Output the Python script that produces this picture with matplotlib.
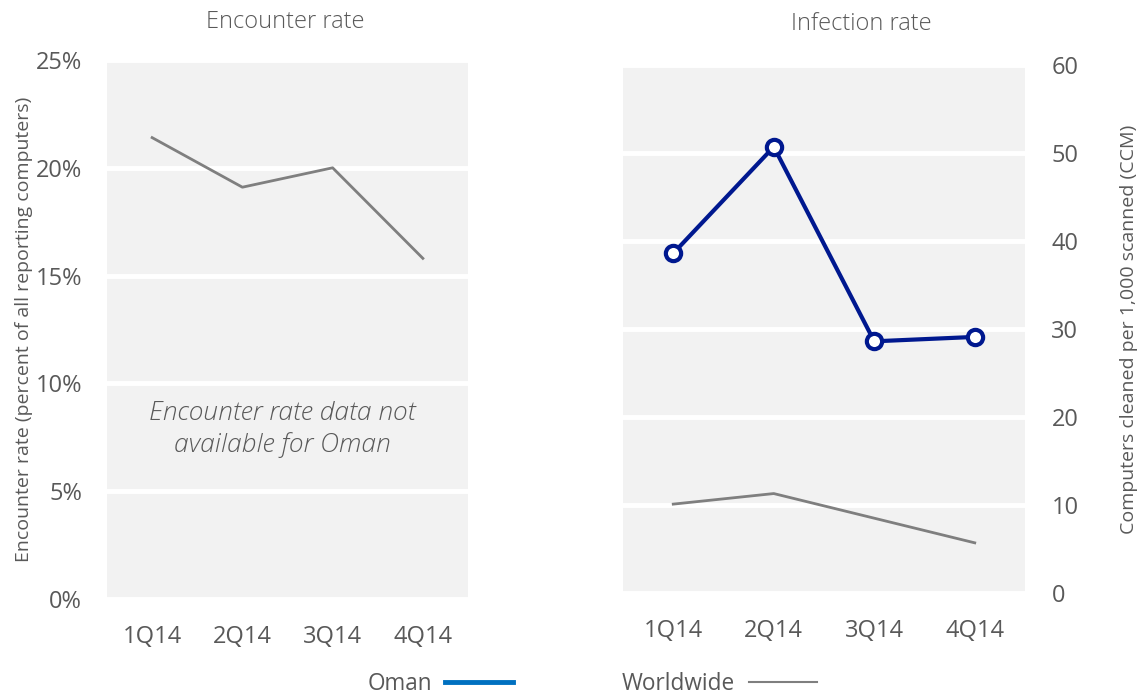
import matplotlib
matplotlib.use("Agg")
import matplotlib.pyplot as plt
from matplotlib.lines import Line2D

quarters = ["1Q14", "2Q14", "3Q14", "4Q14"]
encounter_worldwide = [21.4, 19.1, 20.0, 15.8]
infection_oman = [38.6, 50.7, 28.6, 29.1]
infection_worldwide = [10.1, 11.3, 8.5, 5.7]

plt.rcParams['font.family'] = ['Open Sans', 'DejaVu Sans']
txt = '#595959'
bg = '#F2F2F2'
navy = '#00188F'
gray = '#7F7F7F'

fig = plt.figure(figsize=(11.4, 6.98), dpi=100)
W, H = 1140, 698

def box(x0, x1, ytop, ybot):
    return [x0 / W, (H - ybot) / H, (x1 - x0) / W, (ybot - ytop) / H]

ax1 = fig.add_axes(box(107, 468, 60, 599))
ax2 = fig.add_axes(box(623, 1025, 65, 593))

x = range(len(quarters))
for ax in (ax1, ax2):
    ax.set_facecolor(bg)
    for s in ax.spines.values():
        s.set_visible(False)
    ax.set_xlim(-0.5, 3.5)
    ax.set_xticks(list(x))
    ax.set_xticklabels(quarters)
    ax.tick_params(length=0, labelsize=17, labelcolor=txt)
    ax.tick_params(axis='x', pad=19)
    ax.grid(axis='y', color='white', lw=3.5)
    ax.set_axisbelow(True)

# left panel
ax1.plot(x, encounter_worldwide, color=gray, lw=2)
ax1.set_ylim(0, 25)
ax1.set_yticks([0, 5, 10, 15, 20, 25])
ax1.set_yticklabels([f"{v}%" for v in [0, 5, 10, 15, 20, 25]])
ax1.tick_params(axis='y', pad=18)
ax1.set_ylabel("Encounter rate (percent of all reporting computers)", fontsize=14, color=txt, labelpad=2)
ax1.text(1.44, 7.85, "Encounter rate data not\navailable for Oman", ha='center', va='center',
         fontsize=19, style='italic', fontweight='light', color=txt, linespacing=1.3)

# right panel
ax2.plot(x, infection_worldwide, color=gray, lw=2)
ax2.plot(x, infection_oman, color=navy, lw=3, marker='o', ms=11, mfc='white', mec=navy, mew=3)
ax2.set_ylim(0, 60)
ax2.set_yticks(range(0, 61, 10))
ax2.yaxis.tick_right()
ax2.yaxis.set_label_position('right')
ax2.tick_params(axis='y', pad=19)
ax2.set_ylabel("Computers cleaned per 1,000 scanned (CCM)", fontsize=14, color=txt, labelpad=30)

fig.text(285 / W, 1 - 22 / H, "Encounter rate", ha='center', va='center', fontsize=17, color=txt, fontweight='light')
fig.text(861 / W, 1 - 24 / H, "Infection rate", ha='center', va='center', fontsize=17, color=txt, fontweight='light')

handles = [Line2D([], [], color='#0070C0', lw=3.5), Line2D([], [], color=gray, lw=1.5)]
fig.legend(handles, ["Oman", "Worldwide"], loc='center', bbox_to_anchor=(592 / W, 1 - 684 / H),
           ncol=2, frameon=False, markerfirst=False, fontsize=16.3, labelcolor=txt,
           handlelength=3.0, columnspacing=4.8, handletextpad=0.6)

fig.savefig("out.png", dpi=100)
